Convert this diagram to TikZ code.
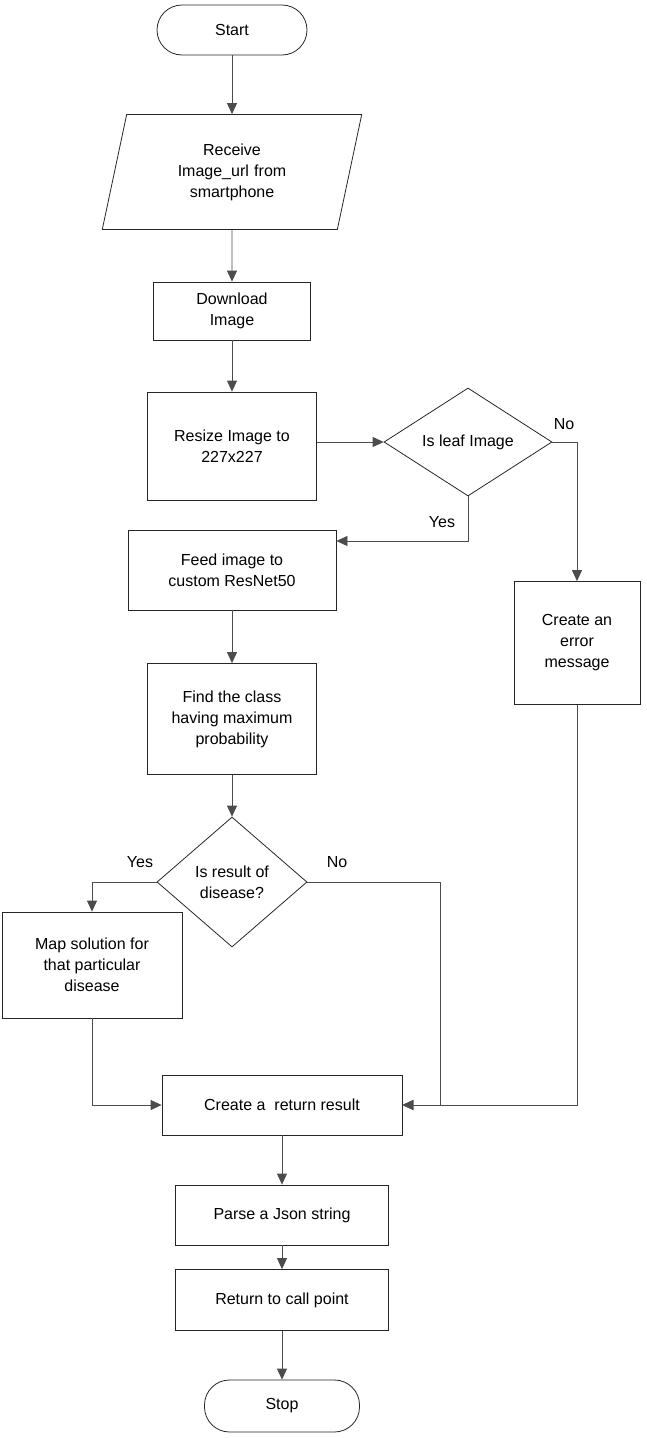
\documentclass[tikz,border=0pt]{standalone}
\usepackage{fontspec}
\setmainfont{Liberation Sans}
\usetikzlibrary{shapes.geometric,arrows.meta}
\tikzset{
  box/.style={draw=black!85, thick, align=center, font=\fontsize{16}{21}\selectfont},
  term/.style={box, rounded rectangle, rounded corners=25pt},
  io/.style={box, trapezium, trapezium left angle=78, trapezium right angle=102, minimum height=115pt, text width=110pt},
  dec/.style={box, diamond, aspect=1.55},
  line/.style={thick, draw=black!70, -{Triangle[length=11pt,width=10pt]}},
  lab/.style={font=\fontsize{16}{20}\selectfont}
}
\begin{document}
\begin{tikzpicture}[x=1pt,y=-1pt]
  \useasboundingbox (0,0) rectangle (646,1438);

  \node[box, rounded corners=25pt, minimum width=150pt, minimum height=50pt] (start) at (232,30) {Start};
  \node[io] (recv) at (232,172) {Receive\\Image\_url from\\smartphone};
  \node[box, minimum width=157pt, minimum height=58pt] (down) at (232,311) {Download\\Image};
  \node[box, minimum width=169pt, minimum height=108pt] (resize) at (232,446) {Resize Image to\\227x227};
  \node[box, diamond, minimum width=168pt, minimum height=108pt, inner sep=0pt] (leaf) at (468,442) {Is leaf Image};
  \node[box, minimum width=208pt, minimum height=80pt] (feed) at (232,570) {Feed image to\\custom ResNet50};
  \node[box, minimum width=126pt, minimum height=123pt] (err) at (577,643) {Create an\\error\\message};
  \node[box, minimum width=169pt, minimum height=111pt] (find) at (232,719) {Find the class\\having maximum\\probability};
  \node[box, diamond, minimum width=150pt, minimum height=130pt, inner sep=0pt] (res) at (232,882) {Is result of\\disease?};
  \node[box, minimum width=180pt, minimum height=106pt] (map) at (92,965) {Map solution for\\that particular\\disease};
  \node[box, minimum width=240pt, minimum height=60pt] (ret) at (282,1105) {Create a~~return result};
  \node[box, minimum width=213pt, minimum height=60pt] (parse) at (282,1215) {Parse a Json string};
  \node[box, minimum width=213pt, minimum height=61pt] (call) at (282,1300) {Return to call point};
  \node[box, rounded corners=25pt, minimum width=155pt, minimum height=52pt] (stop) at (282,1406) {Stop};

  \coordinate (c1) at (468,541);
  \coordinate (c2) at (577,442);
  \coordinate (c3) at (577,1105);
  \coordinate (c4) at (92,882);
  \coordinate (c5) at (440,882);
  \coordinate (c6) at (440,1105);
  \coordinate (c7) at (92,1105);

  \draw[line] (start) -- (recv);
  \draw[line] (recv) -- (down);
  \draw[line] (down) -- (resize);
  \draw[line] (resize.east |- leaf) -- (leaf.west);
  \draw[line] (leaf.south) -- (c1) -- (feed.east |- c1);
  \draw[line] (leaf.east) -- (c2) -- (err.north);
  \draw[line] (err.south) -- (c3) -- (ret.east);
  \draw[line] (feed) -- (find);
  \draw[line] (find) -- (res);
  \draw[line] (res.west) -- (c4) -- (map.north);
  \draw[line] (res.east) -- (c5) -- (c6) -- (ret.east);
  \draw[line] (map.south) -- (c7) -- (ret.west);
  \draw[line] (ret) -- (parse);
  \draw[line] (parse) -- (call);
  \draw[line] (call) -- (stop);

  \node[lab] (yes1) at (442,522) {Yes};
  \node[lab] (no1) at (564,424) {No};
  \node[lab] (yes2) at (140,862) {Yes};
  \node[lab] (no2) at (337,862) {No};
\end{tikzpicture}
\end{document}
